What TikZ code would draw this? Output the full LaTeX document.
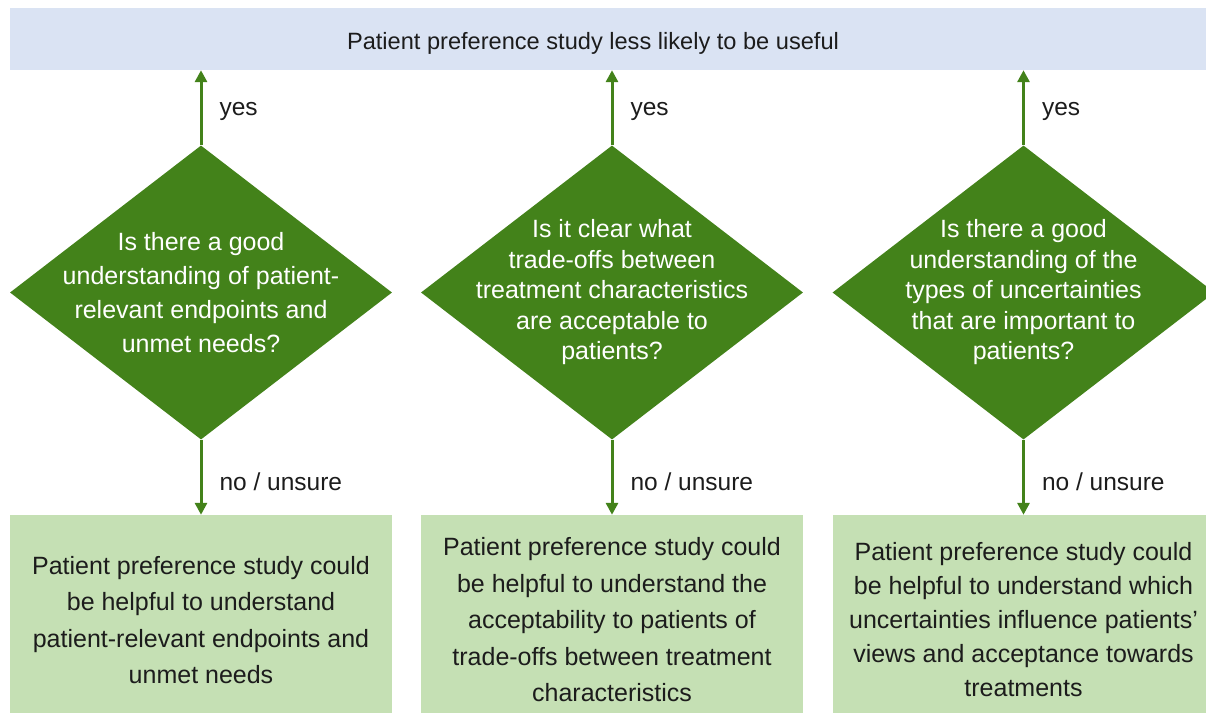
\documentclass[tikz,border=0pt]{standalone}
\usepackage{fontspec}
\setmainfont{Liberation Sans}
\usetikzlibrary{shapes.geometric,arrows.meta,positioning}
\definecolor{leafgreen}{HTML}{43821A}
\definecolor{palegreen}{HTML}{C5E0B4}
\definecolor{paleblue}{HTML}{DAE3F3}
\definecolor{inkgray}{HTML}{1C1C1C}
\tikzset{
  question/.style={diamond, fill=leafgreen, text=white, minimum width=382pt, minimum height=294pt,
    inner sep=-50pt, align=center, font=\fontsize{25}{34}\selectfont},
  outcome/.style={rectangle, fill=palegreen, text=inkgray, minimum width=382pt, minimum height=210pt,
    inner sep=0pt, align=center, font=\fontsize{25}{36.5}\selectfont},
  flow/.style={->, draw=leafgreen, line width=3pt},
  answer/.style={text=inkgray, inner sep=0pt, yshift=-4pt, font=\fontsize{24.5}{30}\selectfont},
}
\begin{document}
\begin{tikzpicture}[x=1pt,y=-1pt,>={Triangle[length=12pt,width=12pt]}]
  \useasboundingbox (0,0) rectangle (1206,712);
  \clip (0,0) rectangle (1206,712);
  % top banner
  \node[fill=paleblue, minimum width=1196pt, minimum height=62pt, inner sep=0pt] (top) at (608,39) {};
  \node[text=inkgray, font=\fontsize{23.6}{28}\selectfont] (toptext) at (593,43) {Patient preference study less likely to be useful};
  % questions
  \node[question] (q1) at (201,292.5) {Is there a good\\understanding of patient-\\relevant endpoints and\\unmet needs?};
  \node[question, font=\fontsize{25}{30.5}\selectfont] (q2) at (612,292.5) {Is it clear what\\trade-offs between\\treatment characteristics\\are acceptable to\\patients?};
  \node[question, font=\fontsize{25}{30.5}\selectfont] (q3) at (1023.5,292.5) {Is there a good\\understanding of the\\types of uncertainties\\that are important to\\patients?};
  % outcomes
  \node[outcome] (r1) at (201,620) {Patient preference study could\\be helpful to understand\\patient-relevant endpoints and\\unmet needs};
  \node[outcome] (r2) at (612,620) {Patient preference study could\\be helpful to understand the\\acceptability to patients of\\trade-offs between treatment\\characteristics};
  \node[outcome, font=\fontsize{25}{34}\selectfont] (r3) at (1023.5,620) {Patient preference study could\\be helpful to understand which\\uncertainties influence patients’\\views and acceptance towards\\treatments};
  % arrows
  \foreach \i in {1,2,3} {
    \draw[flow] (q\i.north) -- (q\i.north |- top.south) node[answer, midway, right=17pt] {yes};
    \draw[flow] (q\i.south) -- (q\i.south |- r\i.north) node[answer, midway, right=17pt] {no / unsure};
  }
\end{tikzpicture}
\end{document}
